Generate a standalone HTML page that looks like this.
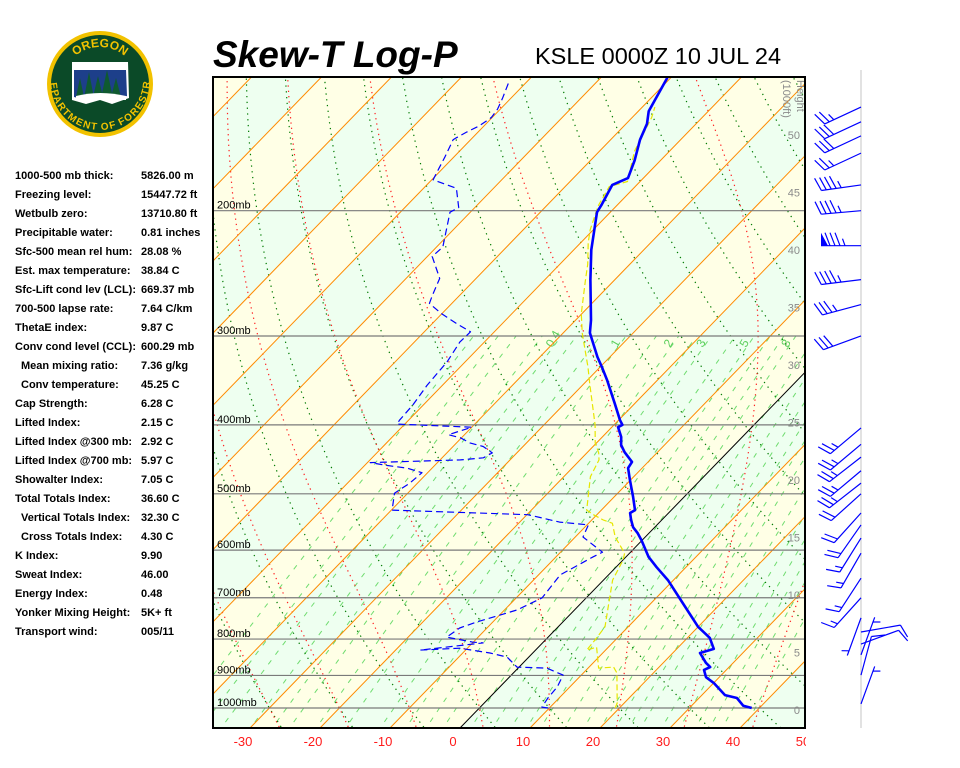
<!DOCTYPE html>
<html><head><meta charset="utf-8"><title>Skew-T Log-P KSLE</title>
<style>
html,body{margin:0;padding:0;background:#fff;}
body{width:960px;height:768px;overflow:hidden;position:relative;font-family:"Liberation Sans",sans-serif;}
#stats{position:absolute;left:0;top:0;}
.row{position:absolute;font-size:11px;font-weight:bold;color:#000;white-space:nowrap;}
</style></head>
<body>
<svg id="chart" width="960" height="768" style="position:absolute;left:0;top:0">
  <defs>
    <clipPath id="plotclip"><rect x="213" y="77" width="592" height="651"/></clipPath>
    <clipPath id="labclip"><rect x="200" y="728" width="606" height="40"/></clipPath>
    <path id="logoTop" d="M 62 85 A 38 38 0 0 1 138 85"/>
    <path id="logoBot" d="M 58 80 A 42 42 0 0 0 142 80"/>
  </defs>
  <g id="logo">
    <circle cx="100" cy="84" r="53" fill="#f2c200"/>
    <circle cx="100" cy="84" r="49" fill="#0b4a28"/>
    <path d="M72 62 L128 62 L129 98 L112 104 L100 100 L86 104 L72 100 Z" fill="#fff"/>
    <path d="M74 70 L126 70 L127 96 L112 100 L100 96 L86 100 L74 97 Z" fill="#1d3f8a"/>
    <path d="M76 97 L80 78 L84 97 Z M84 98 L89 72 L94 98 Z M93 97 L98 76 L103 97 Z M101 98 L107 70 L113 98 Z M111 97 L116 78 L121 97 Z" fill="#0f5a30"/>
    <path d="M76 96 Q100 90 126 96 L126 100 L76 100 Z" fill="#fff"/>
    <text font-family="Liberation Sans" font-weight="bold" font-size="12" fill="#f2c200" text-anchor="middle"><textPath href="#logoTop" startOffset="50%">OREGON</textPath></text>
    <text font-family="Liberation Sans" font-weight="bold" font-size="10" fill="#f2c200" text-anchor="middle" dy="8"><textPath href="#logoBot" startOffset="50%">DEPARTMENT OF FORESTRY</textPath></text>
  </g>
  <text x="213" y="67" font-family="Liberation Sans" font-weight="bold" font-style="italic" font-size="37" fill="#000">Skew-T Log-P</text>
  <text x="535" y="64" font-family="Liberation Sans" font-size="23.5" fill="#000">KSLE 0000Z 10 JUL 24</text>
  <g id="bg" clip-path="url(#plotclip)"></g>
  <g id="grid" clip-path="url(#plotclip)"></g>
  <g id="series" clip-path="url(#plotclip)"></g>
  <rect x="213" y="77" width="592" height="651" fill="none" stroke="#000" stroke-width="2"/>
  <g id="axes"></g>
  <line x1="861" y1="70" x2="861" y2="728" stroke="#e2e2e2" stroke-width="2"/>
  <g id="winds"></g>
</svg>
<div id="stats"></div>
<script>
// ---------- data ----------
const tempP = [1000,993,968,959,922,905,884,876,864,837,826,797,769,712,661,634,613,581,568,557,544,532,527,505,478,460,451,437,427,416,403,400,394,373,346,332,321,297,285,250,227,201,196,184,180,170,159,151,145,130];
const tempT = [38.9,37.4,35.4,33.3,30.0,28.1,26.8,27.3,26.1,23.9,25.3,23.2,20.0,14.5,9.2,5.8,3.2,-0.1,-1.6,-3.1,-4.4,-5.5,-5.2,-7.3,-10.1,-12.0,-12.3,-14.7,-16.2,-17.3,-19.1,-18.8,-19.8,-22.9,-27.2,-29.7,-31.8,-36.2,-37.8,-43.5,-47.5,-51.9,-52.3,-53.5,-52.2,-53.7,-55.8,-57.0,-58.5,-60.5];
const dewP = [1000,997,968,934,899,879,876,848,837,824,829,810,808,795,772,757,728,700,650,613,604,575,553,548,541,535,527,499,483,467,460,456,452,448,445,438,429,424,417,413,403,399,394,375,352,326,306,296,288,279,270,263,249,232,225,212,201,198,186,183,181,174,168,159,158,155,152,148,144,139,131];
const dewT = [9.8,8.8,8.4,8.2,7.4,4.1,-0.3,-3.1,-6.1,-11.1,-16.5,-8.5,-10.1,-14.5,-13.9,-12.3,-8.2,-6.3,-6.9,-4.7,-4.0,-8.9,-9.8,-14.3,-17.2,-19.9,-39.9,-41.9,-41.1,-40.8,-43.6,-46.9,-49.6,-37.1,-34.1,-33.5,-35.7,-38.1,-40.2,-42.3,-40.0,-51.1,-51.3,-51.5,-52.2,-52.6,-53.5,-53.4,-56.6,-60.1,-63.2,-63.9,-65.2,-69.3,-69.1,-71.1,-72.9,-72.3,-75.3,-78.0,-79.8,-80.6,-81.3,-82.5,-82.3,-81.6,-80.7,-80.1,-80.4,-81.2,-82.7];
const parcelP = [1000,984,893,876,879,821,829,802,769,721,661,619,606,575,550,544,535,527,473,448,438,424,400,350,332,297,279,250,238,222,213,197,185,182,165,148,143];
const parcelT = [19.4,19.0,14.8,13.5,11.5,8.3,7.3,7.1,6.7,4.4,1.3,0.0,-0.7,-4.3,-6.6,-8.4,-10.5,-12.1,-16.2,-17.3,-18.3,-20.2,-22.7,-29.2,-31.7,-37.3,-40.1,-44.2,-46.0,-48.9,-50.4,-52.6,-53.7,-51.8,-55.0,-57.2,-58.2];
const windP = [143,150,157,166,184,200,224,250,271,300,404,426,444,464,483,500,532,553,577,606,657,700,747,782,813,842,899,987];
const windDir = [245,245,245,245,262,265,270,263,255,250,230,230,232,230,232,228,222,215,212,210,213,222,200,80,70,20,15,20];
const windSpd = [25,30,30,25,45,45,85,45,35,30,25,25,25,25,25,20,20,20,15,15,15,15,5,10,10,5,10,5];
const pressureLevels = [200,300,400,500,600,700,800,900,1000];
const tempTicks = [-30,-20,-10,0,10,20,30,40,50];
const heightTicks = [0,5,10,15,20,25,30,35,40,45,50];
const mixRatios = [0.1,0.15,0.2,0.3,0.4,0.5,0.7,1,1.5,2,2.5,3,4,5,6,7,8,10,12,14,16,18,20,24,28,32,36,40,48];
const mixLabels = [0.4,1,2,3,5,8];
const statLabels = ["1000-500 mb thick:","Freezing level:","Wetbulb zero:","Precipitable water:","Sfc-500 mean rel hum:","Est. max temperature:","Sfc-Lift cond lev (LCL):","700-500 lapse rate:","ThetaE index:","Conv cond level (CCL):","Mean mixing ratio:","Conv temperature:","Cap Strength:","Lifted Index:","Lifted Index @300 mb:","Lifted Index @700 mb:","Showalter Index:","Total Totals Index:","Vertical Totals Index:","Cross Totals Index:","K Index:","Sweat Index:","Energy Index:","Yonker Mixing Height:","Transport wind:"];
const statValues = ["5826.00 m","15447.72 ft","13710.80 ft","0.81 inches","28.08 %","38.84 C","669.37 mb","7.64 C/km","9.87 C","600.29 mb","7.36 g/kg","45.25 C","6.28 C","2.15 C","2.92 C","5.97 C","7.05 C","36.60 C","32.30 C","4.30 C","9.90","46.00","0.48","5K+ ft","005/11"];
const statIndent = [0,0,0,0,0,0,0,0,0,0,1,1,0,0,0,0,0,0,1,1,0,0,0,0,0];

// ---------- axes ----------
const Y0 = 708, K = 309, SKEW = 0.97, XT0 = 460, PXC = 7, YB = 728, YT = 77;
function yP(p){ return Y0 - K*Math.log(1000/p); }
function xTy(T,y){ return XT0 + PXC*T + SKEW*(YB - y); }
function xT(T,p){ return xTy(T, yP(p)); }
const NS = "http://www.w3.org/2000/svg";
function mk(tag, parent){ const e=document.createElementNS(NS,tag); parent.appendChild(e); return e; }
function ptsStr(arr){ return arr.map(a=>a[0].toFixed(1)+","+a[1].toFixed(1)).join(" "); }
const bg=document.getElementById('bg'), grid=document.getElementById('grid'), series=document.getElementById('series'), axes=document.getElementById('axes'), winds=document.getElementById('winds');

for(let T=-140; T<60; T+=10){
  const poly=mk('polygon',bg);
  
  
  const green = (Math.floor(T/10)%2===0);
  poly.setAttribute('fill', green ? '#eefff0' : '#ffffe6');
  poly.setAttribute('points', ptsStr([[xTy(T,YB),YB],[xTy(T+10,YB),YB],[xTy(T+10,YT),YT],[xTy(T,YT),YT]]));
}
const pSamp=[]; for(let p=1080;p>=120;p-=10) pSamp.push(p);
function tdFromW(w,p){ const e=w*p/(622+w); const l=Math.log(e/6.112); return 243.5*l/(17.67-l); }
mixRatios.forEach(w=>{
  const pts=[]; for(let p=1080;p>=300;p-=10) pts.push([xT(tdFromW(w,p),p), yP(p)]);
  const pl=mk('polyline',grid);
  
  
  pl.setAttribute('points',ptsStr(pts)); pl.setAttribute('fill','none');
  pl.setAttribute('stroke','#6fdc6f'); pl.setAttribute('stroke-width','1'); pl.setAttribute('stroke-dasharray','5 7');
});
mixLabels.forEach(w=>{
  const p=312; const t=mk('text',grid);
  
  
  const x=xT(tdFromW(w,p),p), y=yP(p);
  t.setAttribute('x',x.toFixed(1)); t.setAttribute('y',y.toFixed(1));
  t.setAttribute('transform','rotate(-60 '+x.toFixed(1)+' '+y.toFixed(1)+')');
  t.setAttribute('font-size','12'); t.setAttribute('fill','#5ccf5c'); t.setAttribute('font-family','Liberation Sans');
  t.textContent=String(w);
});
for(let th=-40; th<=230; th+=10){
  const pts=pSamp.map(p=>[xT((th+273.15)*Math.pow(p/1000,0.2857)-273.15,p), yP(p)]);
  const pl=mk('polyline',grid);
  
  
  pl.setAttribute('points',ptsStr(pts)); pl.setAttribute('fill','none');
  pl.setAttribute('stroke','#007a00'); pl.setAttribute('stroke-width','1.2'); pl.setAttribute('stroke-dasharray','1.3 4.5');
}
function es(T){ return 6.112*Math.exp(17.67*T/(T+243.5)); }
function dTdp(T,p){ const Tk=T+273.15, e=es(T), r=0.622*e/(p-e); return (287*Tk+2.5e6*r)/(p*(1005+2.5e6*2.5e6*r*0.622/(287*Tk*Tk))); }
for(let T0=-40; T0<=50; T0+=10){
  const pts=[]; let T=T0;
  for(let p=1000;p<=1080;p+=2){ if(p%10===0) pts.unshift([xT(T,p),yP(p)]); T+=dTdp(T,p)*2; }
  T=T0;
  for(let p=1000;p>=120;p-=2){ if(p%10===0 && p<1000) pts.push([xT(T,p),yP(p)]); T-=dTdp(T,p)*2; }
  const pl=mk('polyline',grid);
  
  
  pl.setAttribute('points',ptsStr(pts)); pl.setAttribute('fill','none');
  pl.setAttribute('stroke','#ff2020'); pl.setAttribute('stroke-width','1.2'); pl.setAttribute('stroke-dasharray','1.3 4');
}
for(let T=-140; T<=60; T+=10){
  const l=mk('line',grid);
  
  
  l.setAttribute('x1',xTy(T,YB)); l.setAttribute('y1',YB); l.setAttribute('x2',xTy(T,YT)); l.setAttribute('y2',YT);
  l.setAttribute('stroke', T===0 ? '#000' : '#ff8a00'); l.setAttribute('stroke-width','1');
}
pressureLevels.forEach(p=>{
  const y=yP(p);
  const l=mk('line',grid);
  
  
  l.setAttribute('x1',213); l.setAttribute('x2',805); l.setAttribute('y1',y); l.setAttribute('y2',y);
  l.setAttribute('stroke','#7a7a7a'); l.setAttribute('stroke-width','1.2');
  const t=mk('text',grid);
  
  
  t.setAttribute('x',217); t.setAttribute('y',y-2); t.setAttribute('font-size','11'); t.setAttribute('font-family','Liberation Sans'); t.setAttribute('fill','#000');
  t.textContent=p+'mb';
});
heightTicks.forEach(h=>{
  const t=mk('text',grid);
  
  
  t.setAttribute('x',800); t.setAttribute('y',(714-11.5*h).toFixed(1)); t.setAttribute('text-anchor','end');
  t.setAttribute('font-size','11'); t.setAttribute('font-family','Liberation Sans'); t.setAttribute('fill','#8a8a8a');
  t.textContent=String(h);
});
['Height','(1000ft)'].forEach((s,i)=>{
  const t=mk('text',grid);
  
  
  const x=i===0?797:783, y=80;
  t.setAttribute('x',x); t.setAttribute('y',y); t.setAttribute('transform','rotate(90 '+x+' '+y+')');
  t.setAttribute('font-size','11'); t.setAttribute('font-family','Liberation Sans'); t.setAttribute('fill','#8a8a8a');
  t.textContent=s;
});
const lab=mk('g',axes); lab.setAttribute('clip-path','url(#labclip)');
tempTicks.forEach(T=>{
  const t=mk('text',lab);
  
  
  t.setAttribute('x',(453+PXC*T).toFixed(1)); t.setAttribute('y',746); t.setAttribute('text-anchor','middle');
  t.setAttribute('font-size','13'); t.setAttribute('font-family','Liberation Sans'); t.setAttribute('fill','#ff1a1a');
  t.textContent=String(T);
});
function drawSeries(P,T,name,stroke,w,dash){
  const pl=mk('polyline',series);
  
  
  pl.setAttribute('points',ptsStr(P.map((p,i)=>[xT(T[i],p),yP(p)])));
  pl.setAttribute('fill','none'); pl.setAttribute('stroke',stroke); pl.setAttribute('stroke-width',w);
  pl.setAttribute('stroke-linejoin','round');
  if(dash) pl.setAttribute('stroke-dasharray',dash);
}
drawSeries(parcelP,parcelT,'parcel-line','#e6e600','1.2','6 3');
drawSeries(dewP,dewT,'dewpoint-line','#0000ff','1.2','7 4');
drawSeries(tempP,tempT,'temperature-line','#0000ff','2.6',null);
windP.forEach((p,i)=>{
  const d=windDir[i]*Math.PI/180, ax=861, ay=yP(p), L=40;
  const ux=Math.sin(d), uy=-Math.cos(d);
  const px=-uy, py=ux;
  const g=mk('g',winds);
  
  
  const tx=ax+ux*L, ty=ay+uy*L;
  const st=mk('line',g);
  st.setAttribute('x1',ax); st.setAttribute('y1',ay); st.setAttribute('x2',tx.toFixed(1)); st.setAttribute('y2',ty.toFixed(1));
  st.setAttribute('stroke','#0000ff'); st.setAttribute('stroke-width','1.2');
  let s=windSpd[i], pos=0;
  while(s>=50){
    const b1x=tx-ux*pos, b1y=ty-uy*pos, b2x=tx-ux*(pos+7), b2y=ty-uy*(pos+7);
    const tri=mk('polygon',g);
    tri.setAttribute('points',ptsStr([[b1x,b1y],[b1x+px*13,b1y+py*13],[b2x,b2y]]));
    tri.setAttribute('fill','#0000ff');
    s-=50; pos+=9;
  }
  while(s>=10){
    const bx=tx-ux*pos, by=ty-uy*pos;
    const b=mk('line',g);
    b.setAttribute('x1',bx.toFixed(1)); b.setAttribute('y1',by.toFixed(1));
    b.setAttribute('x2',(bx+px*13+ux*5).toFixed(1)); b.setAttribute('y2',(by+py*13+uy*5).toFixed(1));
    b.setAttribute('stroke','#0000ff'); b.setAttribute('stroke-width','1.2');
    s-=10; pos+=5;
  }
  if(s>=5){
    if(pos===0) pos=5;
    const bx=tx-ux*pos, by=ty-uy*pos;
    const b=mk('line',g);
    b.setAttribute('x1',bx.toFixed(1)); b.setAttribute('y1',by.toFixed(1));
    b.setAttribute('x2',(bx+px*7+ux*2.5).toFixed(1)); b.setAttribute('y2',(by+py*7+uy*2.5).toFixed(1));
    b.setAttribute('stroke','#0000ff'); b.setAttribute('stroke-width','1.2');
  }
});
const panel=document.getElementById('stats');
statLabels.forEach((s,i)=>{
  const y=170+19*i;
  const a=document.createElement('div'); panel.appendChild(a);
  
  
  a.className='row'; a.style.left=(statIndent[i]?21:15)+'px'; a.style.top=y+'px'; a.textContent=s;
  const v=document.createElement('div'); panel.appendChild(v);
  
  
  v.className='row'; v.style.left='141px'; v.style.top=y+'px'; v.textContent=statValues[i];
});
</script>
</body></html>
